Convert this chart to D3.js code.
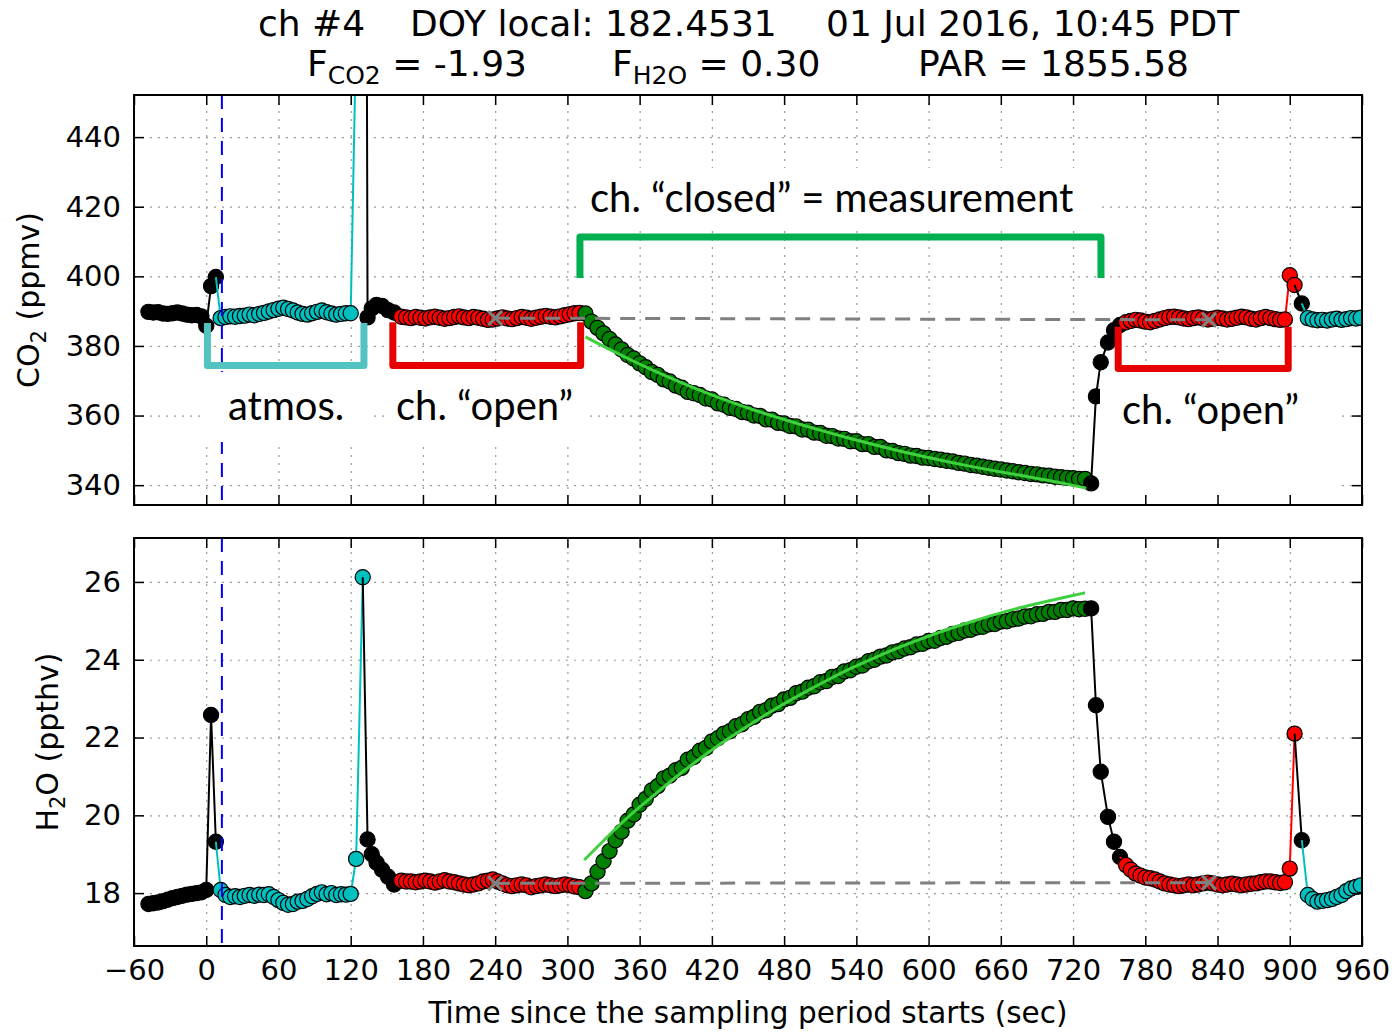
<!DOCTYPE html>
<html>
<head>
<meta charset="utf-8">
<script src="https://cdn.jsdelivr.net/npm/d3@7"></script>
<style>
  body { margin: 0; background: #fff; }
  text { font-family: "DejaVu Sans", sans-serif; }
</style>
</head>
<body>
<div id="chart"></div>
<script>
// ---- data (time in sec, CO2 in ppmv, H2O in ppthv) ----
var xTickValues = [-60, 0, 60, 120, 180, 240, 300, 360, 420, 480, 540, 600, 660, 720, 780, 840, 900, 960];
var co2Ticks = [340, 360, 380, 400, 420, 440];
var h2oTicks = [18, 20, 22, 24, 26];

// black, before atmosphere
var tPre = [-48, -44, -40, -36, -32, -28, -24, -20, -16, -12, -8, -4, 0, 4, 8];
var co2Pre = [389.8, 389.6, 389.7, 389.3, 389.2, 389.4, 389.6, 389.3, 389.0, 388.8, 388.9, 388.5, 385.8, 397.2, 399.8];
var h2oPre = [17.72, 17.74, 17.76, 17.79, 17.83, 17.87, 17.90, 17.93, 17.96, 17.98, 18.00, 18.02, 18.08, 22.58, 19.32];

// cyan, atmosphere
var tAtm1 = [12, 16, 20, 24, 28, 32, 36, 40, 44, 48, 52, 56, 60, 64, 68, 72, 76, 80, 84, 88, 92, 96, 100, 104, 108, 112, 116, 120, 124.5, 130];
var co2Atm1 = [388.0, 388.3, 388.5, 388.4, 388.6, 388.7, 389.0, 388.8, 389.2, 389.5, 389.9, 390.3, 390.7, 391.0, 390.6, 390.2, 389.6, 389.2, 389.0, 389.4, 389.8, 390.2, 389.7, 389.3, 389.0, 389.2, 389.4, 389.4, 470, 900];
var h2oAtm1 = [18.08, 17.95, 17.90, 17.92, 17.90, 17.93, 17.95, 17.93, 17.96, 17.95, 17.97, 17.90, 17.82, 17.75, 17.70, 17.72, 17.78, 17.80, 17.85, 17.92, 17.98, 18.02, 17.97, 18.00, 17.95, 17.97, 17.96, 17.98, 18.88, 26.12];

// black, flushing
var tFlush1 = [134, 137.5, 141.5, 146, 151, 156];
var co2Flush1 = [388.2, 390.8, 391.8, 391.5, 390.3, 389.6];
var h2oFlush1 = [19.38, 19.00, 18.78, 18.60, 18.42, 18.22];

// red, chamber open
var tOpen1 = [162, 166, 170, 174, 178, 182, 186, 190, 194, 198, 202, 206, 210, 214, 218, 222, 226, 230, 234, 238,
              242, 246, 250, 254, 258, 262, 266, 270, 274, 278, 282, 286, 290, 294, 298, 302, 306, 310];
var co2Open1 = [388.4, 388.2, 388.0, 388.3, 388.1, 387.9, 388.2, 388.4, 388.1, 387.8, 388.0, 388.3, 388.5, 388.2, 388.0, 388.3, 388.1, 387.8, 387.5, 387.6,
                387.9, 388.2, 387.9, 387.7, 388.0, 388.3, 388.1, 387.8, 388.1, 388.4, 388.6, 388.4, 388.2, 388.5, 388.8, 389.1, 389.4, 389.5];
var h2oOpen1 = [18.32, 18.30, 18.30, 18.28, 18.30, 18.32, 18.30, 18.27, 18.30, 18.33, 18.30, 18.28, 18.25, 18.22, 18.20, 18.22, 18.25, 18.30, 18.32, 18.35,
                18.30, 18.25, 18.20, 18.18, 18.20, 18.22, 18.20, 18.15, 18.18, 18.20, 18.22, 18.20, 18.18, 18.20, 18.22, 18.20, 18.17, 18.15];

// green, chamber closed (measurement)
var tClosed = [315, 320, 325, 330, 335, 340, 345, 350, 355, 360, 365, 370, 375, 380, 385, 390, 395, 400, 405, 410,
               415, 420, 425, 430, 435, 440, 445, 450, 455, 460, 465, 470, 475, 480, 485, 490, 495, 500, 505, 510,
               515, 520, 525, 530, 535, 540, 545, 550, 555, 560, 565, 570, 575, 580, 585, 590, 595, 600, 605, 610,
               615, 620, 625, 630, 635, 640, 645, 650, 655, 660, 665, 670, 675, 680, 685, 690, 695, 700, 705, 710,
               715, 720, 725, 730];
var co2Closed = [389.3, 387.0, 385.2, 383.6, 382.0, 380.4, 379.0, 377.4, 376.4, 375.0,
                 373.9, 372.5, 371.7, 370.4, 369.8, 368.6, 368.0, 366.8, 366.4, 365.9,
                 364.9, 364.6, 363.5, 363.1, 362.2, 361.9, 361.0, 360.8, 360.0, 359.9,
                 358.9, 358.8, 357.9, 357.7, 357.0, 356.9, 356.0, 355.9, 355.1, 355.0,
                 354.2, 354.1, 353.4, 353.3, 352.6, 352.6, 351.8, 351.8, 351.0, 351.0,
                 350.0, 349.8, 349.2, 349.0, 348.5, 348.4, 347.9, 347.8, 347.5, 347.3,
                 347.0, 346.8, 346.4, 346.2, 345.8, 345.6, 345.3, 345.0, 344.7, 344.5,
                 344.2, 344.0, 343.7, 343.5, 343.2, 343.1, 342.8, 342.7, 342.4, 342.3,
                 342.1, 342.0, 341.8, 341.8];
var h2oClosed = [18.05, 18.25, 18.55, 18.82, 19.08, 19.36, 19.58, 19.86, 20.02, 20.27,
                 20.42, 20.64, 20.75, 20.95, 21.02, 21.16, 21.22, 21.43, 21.50, 21.66,
                 21.73, 21.90, 21.98, 22.10, 22.16, 22.29, 22.34, 22.47, 22.53, 22.66,
                 22.70, 22.82, 22.86, 22.98, 23.02, 23.14, 23.18, 23.28, 23.32, 23.42,
                 23.45, 23.56, 23.58, 23.70, 23.73, 23.82, 23.85, 23.96, 24.00, 24.08,
                 24.11, 24.19, 24.22, 24.29, 24.32, 24.39, 24.41, 24.48, 24.49, 24.56,
                 24.59, 24.66, 24.69, 24.75, 24.77, 24.83, 24.85, 24.91, 24.92, 24.98,
                 24.99, 25.04, 25.06, 25.11, 25.12, 25.17, 25.18, 25.23, 25.23, 25.28,
                 25.28, 25.32, 25.30, 25.31];

// black, flushing after closure
var tFlush2 = [735, 739, 743, 749, 754, 759];
var co2Flush2 = [340.5, 365.5, 375.3, 381.0, 384.5, 386.0];
var h2oFlush2 = [25.32, 22.83, 21.12, 19.96, 19.32, 18.93];

// red, chamber open again
var tOpen2 = [764, 768, 772, 776, 780, 784, 788, 792, 796, 800, 804, 808, 812, 816, 820, 824, 828, 832, 836, 840,
              844, 848, 852, 856, 860, 864, 868, 872, 876, 880, 884, 888, 892, 896, 900, 904];
var co2Open2 = [386.8, 387.2, 387.5, 387.3, 387.0, 386.8, 387.2, 387.6, 388.0, 388.3, 388.4, 388.2, 387.9, 387.7, 388.0, 388.2, 387.9, 387.6, 387.8, 388.1,
                387.9, 387.6, 387.8, 388.1, 388.4, 388.2, 387.8, 387.6, 388.0, 388.3, 388.0, 387.7, 387.5, 387.6, 400.3, 397.5];
var h2oOpen2 = [18.72, 18.60, 18.50, 18.45, 18.40, 18.38, 18.35, 18.30, 18.25, 18.22, 18.20, 18.18, 18.20, 18.22, 18.20, 18.22, 18.25, 18.27, 18.25, 18.22,
                18.20, 18.22, 18.24, 18.22, 18.20, 18.22, 18.24, 18.25, 18.28, 18.30, 18.30, 18.28, 18.26, 18.28, 18.63, 22.10];

var tFlush3 = [910];
var co2Flush3 = [392.2];
var h2oFlush3 = [19.36];

// cyan, next atmosphere period
var tAtm2 = [915, 919, 923, 927, 931, 935, 939, 943, 947, 951, 955, 959];
var co2Atm2 = [388.0, 387.6, 387.4, 387.5, 387.3, 387.6, 387.8, 387.5, 387.7, 388.0, 387.9, 388.1];
var h2oAtm2 = [17.95, 17.85, 17.78, 17.80, 17.82, 17.85, 17.90, 17.95, 18.05, 18.12, 18.16, 18.20];

// baseline (open chamber mean) and fitted curves
var tBase = [240, 833];
var co2Base = [388.0, 387.5];
var h2oBase = [18.25, 18.27];

var tFitCO2 = [315, 335, 355, 375, 395, 415, 435, 455, 475, 495, 515, 535, 555, 575, 595, 615, 635, 655, 675, 695, 715, 731];
var co2Fit = [382.6, 379.0, 375.6, 372.4, 369.4, 366.6, 364.0, 361.6, 359.4, 357.3, 355.3, 353.4, 351.6, 349.9, 348.3, 346.8, 345.4, 344.1, 342.9, 341.6, 340.3, 339.1];
var tFitH2O = [314, 335, 355, 375, 395, 415, 435, 455, 475, 495, 515, 535, 555, 575, 595, 615, 635, 655, 675, 695, 715, 730];
var h2oFit = [18.85, 19.50, 20.08, 20.60, 21.10, 21.57, 22.00, 22.40, 22.78, 23.13, 23.46, 23.77, 24.05, 24.31, 24.55, 24.77, 24.97, 25.16, 25.33, 25.48, 25.62, 25.72];

var tSwitch = 13;  // blue dashed marker

// ---- layout ----
var width = 1395, height = 1032;
var left = 134, right = 1362;

var segments = [
  {t: tPre, co2: co2Pre, h2o: h2oPre, color: "#000000"},
  {t: tAtm1, co2: co2Atm1, h2o: h2oAtm1, color: "#00bfbf"},
  {t: tFlush1, co2: co2Flush1, h2o: h2oFlush1, color: "#000000"},
  {t: tOpen1, co2: co2Open1, h2o: h2oOpen1, color: "#ff0000"},
  {t: tClosed, co2: co2Closed, h2o: h2oClosed, color: "#008000"},
  {t: tFlush2, co2: co2Flush2, h2o: h2oFlush2, color: "#000000"},
  {t: tOpen2, co2: co2Open2, h2o: h2oOpen2, color: "#ff0000"},
  {t: tFlush3, co2: co2Flush3, h2o: h2oFlush3, color: "#000000"},
  {t: tAtm2, co2: co2Atm2, h2o: h2oAtm2, color: "#00bfbf"}
];

var xScale = d3.scaleLinear().domain([-60, 960]).range([left, right]);
var yCO2 = d3.scaleLinear().domain([334.3, 452.1]).range([505, 95]);
var yH2O = d3.scaleLinear().domain([16.64, 27.13]).range([946, 538]);

var svg = d3.select("#chart")
  .append("svg")
  .attr("width", width)
  .attr("height", height);

function zip(t, v) {
  return t.map(function(d, i) { return [d, v[i]]; });
}

function drawPanel(yScale, ticks, key, xLabels, id) {
  var top = yScale.range()[1], bottom = yScale.range()[0];
  var g = svg.append("g");

  g.append("clipPath").attr("id", id)
    .append("rect")
    .attr("x", left).attr("y", top)
    .attr("width", right - left).attr("height", bottom - top);

  // dotted grid
  var gx = g.append("g").attr("transform", "translate(0," + bottom + ")")
    .call(d3.axisBottom(xScale).tickValues(xTickValues).tickSize(-(bottom - top)).tickFormat(""));
  var gy = g.append("g").attr("transform", "translate(" + left + ",0)")
    .call(d3.axisLeft(yScale).tickValues(ticks).tickSize(-(right - left)).tickFormat(""));
  [gx, gy].forEach(function(a) {
    a.select(".domain").remove();
    a.selectAll("line").attr("stroke", "#9a9a9a").attr("stroke-width", 1.2).attr("stroke-dasharray", "2,6");
  });

  var line = d3.line()
    .x(function(d) { return xScale(d[0]); })
    .y(function(d) { return yScale(d[1]); });

  var data = g.append("g").attr("clip-path", "url(#" + id + ")");

  segments.forEach(function(s, i) {
    var pts = zip(s.t, s[key]);
    var linePts = pts.slice();
    if (i > 0) {
      var p = segments[i - 1], n = p.t.length - 1;
      linePts.unshift([p.t[n], p[key][n]]);
    }
    data.append("path")
      .datum(linePts)
      .attr("d", line)
      .attr("fill", "none")
      .attr("stroke", s.color)
      .attr("stroke-width", 2);
    data.selectAll(null)
      .data(pts)
      .enter()
      .append("circle")
      .attr("cx", function(d) { return xScale(d[0]); })
      .attr("cy", function(d) { return yScale(d[1]); })
      .attr("r", 7.6)
      .attr("fill", s.color)
      .attr("stroke", "#000")
      .attr("stroke-width", 1.2);
  });

  // fitted curve
  var fit = key === "co2" ? zip(tFitCO2, co2Fit) : zip(tFitH2O, h2oFit);
  data.append("path")
    .datum(fit)
    .attr("d", line.curve(d3.curveMonotoneX))
    .attr("fill", "none")
    .attr("stroke", "#3fd03f")
    .attr("stroke-width", 3);
  line.curve(d3.curveLinear);

  // baseline between open-chamber means
  var base = zip(tBase, key === "co2" ? co2Base : h2oBase);
  data.append("path")
    .datum(base)
    .attr("d", line)
    .attr("stroke", "#808080")
    .attr("stroke-width", 3)
    .attr("stroke-dasharray", "15,10");
  data.selectAll(null)
    .data(base)
    .enter()
    .append("path")
    .attr("d", function(d) {
      var cx = xScale(d[0]), cy = yScale(d[1]), r = 7;
      return "M" + (cx - r) + "," + (cy - r) + "L" + (cx + r) + "," + (cy + r) +
             "M" + (cx - r) + "," + (cy + r) + "L" + (cx + r) + "," + (cy - r);
    })
    .attr("stroke", "#808080")
    .attr("stroke-width", 3);

  // blue dashed switch time
  data.append("line")
    .attr("x1", xScale(tSwitch)).attr("x2", xScale(tSwitch))
    .attr("y1", top).attr("y2", bottom)
    .attr("stroke", "#0000ff")
    .attr("stroke-width", 2)
    .attr("stroke-dasharray", "14,9");

  // inward ticks on all four sides
  var axes = [
    {a: d3.axisLeft(yScale).tickValues(ticks).tickPadding(13), tr: "translate(" + left + ",0)", lab: true},
    {a: d3.axisRight(yScale).tickValues(ticks).tickFormat(""), tr: "translate(" + right + ",0)"},
    {a: d3.axisTop(xScale).tickValues(xTickValues).tickFormat(""), tr: "translate(0," + top + ")"},
    {a: d3.axisBottom(xScale).tickValues(xTickValues).tickPadding(13), tr: "translate(0," + bottom + ")", lab: xLabels}
  ];
  axes.forEach(function(ax) {
    if (!ax.lab) ax.a.tickFormat("");
    var ag = g.append("g").attr("transform", ax.tr)
      .call(ax.a.tickSizeInner(-10).tickSizeOuter(0));
    ag.select(".domain").remove();
    ag.selectAll("line").attr("stroke", "#000").attr("stroke-width", 1.5);
    ag.selectAll("text")
      .attr("fill", "#000")
      .style("font-size", "29px")
      .style("font-family", "'DejaVu Sans', sans-serif");
  });

  g.append("rect")
    .attr("x", left).attr("y", top)
    .attr("width", right - left).attr("height", bottom - top)
    .attr("fill", "none")
    .attr("stroke", "#000")
    .attr("stroke-width", 2);
}

drawPanel(yCO2, co2Ticks, "co2", false, "clipTop");
drawPanel(yH2O, h2oTicks, "h2o", true, "clipBottom");

// ---- titles ----
var title1 = [["ch #4", 258], ["DOY local: 182.4531", 410], ["01 Jul 2016, 10:45 PDT", 826]];
title1.forEach(function(d) {
  svg.append("text").attr("x", d[1]).attr("y", 36)
    .style("font-size", "36px").text(d[0]);
});

var title2 = [["F", "CO2", " = -1.93", 307], ["F", "H2O", " = 0.30", 612], ["PAR = 1855.58", "", "", 918]];
title2.forEach(function(d) {
  var t = svg.append("text").attr("x", d[3]).attr("y", 76).style("font-size", "36px");
  t.append("tspan").text(d[0]);
  if (d[1]) {
    t.append("tspan").attr("dy", 8).style("font-size", "25px").text(d[1]);
    t.append("tspan").attr("dy", -8).text(d[2]);
  }
});

// axis labels
svg.append("text")
  .attr("x", 748).attr("y", 1023)
  .attr("text-anchor", "middle")
  .style("font-size", "29.5px")
  .text("Time since the sampling period starts (sec)");

function yLabel(a, sub, b, xPos, yPos) {
  var t = svg.append("text")
    .attr("transform", "translate(" + xPos + "," + yPos + ") rotate(-90)")
    .attr("text-anchor", "middle")
    .style("font-size", "30px");
  t.append("tspan").text(a);
  t.append("tspan").attr("dy", 7).style("font-size", "21px").text(sub);
  t.append("tspan").attr("dy", -7).text(b);
}
yLabel("CO", "2", " (ppmv)", 39, 300);
yLabel("H", "2", "O (ppthv)", 58, 742);

// ---- annotations: brackets (in data units of the CO2 panel) ----
var brackets = [
  {t0: 1, t1: 131, v0: 386.6, v1: 374.4, color: "#52c3c0"},
  {t0: 155, t1: 311, v0: 386.8, v1: 374.4, color: "#e60000"},
  {t0: 310.4, t1: 743.2, v0: 399.5, v1: 411.3, color: "#00b050"},
  {t0: 757.5, t1: 898.7, v0: 385.5, v1: 373.5, color: "#e60000"}
];

// white boxes behind labels
var boxes = [[200, 372, 172, 70], [385, 372, 205, 70], [576, 168, 520, 60], [1100, 372, 240, 123]];
boxes.forEach(function(b) {
  svg.append("rect").attr("x", b[0]).attr("y", b[1]).attr("width", b[2]).attr("height", b[3]).attr("fill", "#fff");
});

brackets.forEach(function(b) {
  var xa = xScale(b.t0), xb = xScale(b.t1), ya = yCO2(b.v0), yb = yCO2(b.v1);
  svg.append("path")
    .attr("d", "M" + xa + "," + ya + "L" + xa + "," + yb + "L" + xb + "," + yb + "L" + xb + "," + ya)
    .attr("fill", "none")
    .attr("stroke", b.color)
    .attr("stroke-width", 7)
    .attr("stroke-linejoin", "round");
});

var notes = [
  ["ch. \u201cclosed\u201d = measurement", 590, 212],
  ["atmos.", 228, 420],
  ["ch. \u201copen\u201d", 396, 420],
  ["ch. \u201copen\u201d", 1122, 424]
];
notes.forEach(function(n) {
  svg.append("text")
    .attr("x", n[1]).attr("y", n[2])
    .style("font-family", "Lato, 'Open Sans', sans-serif")
    .style("font-size", "40px")
    .attr("fill", "#000")
    .text(n[0]);
});
</script>
</body>
</html>
